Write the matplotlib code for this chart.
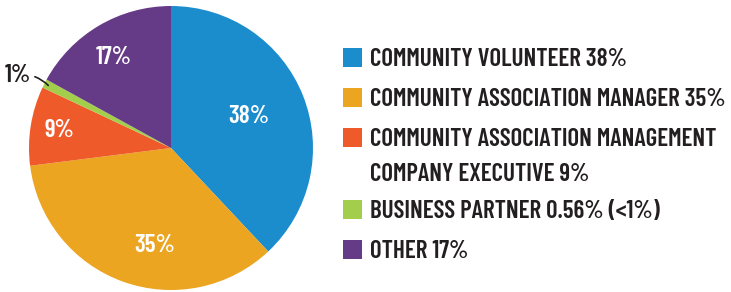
import matplotlib
matplotlib.use("Agg")
import matplotlib.pyplot as plt
import numpy as np
from matplotlib.patches import Rectangle

# pie data
values = [38, 35, 9, 1, 17]
pie_labels = ["38%", "35%", "9%", "", "17%"]
colors = ["#1B8DCD", "#EBA521", "#EF5A2A", "#A3CE4B", "#653A87"]
# legend text
legend_labels = [
    "COMMUNITY VOLUNTEER 38%",
    "COMMUNITY ASSOCIATION MANAGER 35%",
    "COMMUNITY ASSOCIATION MANAGEMENT\nCOMPANY EXECUTIVE 9%",
    "BUSINESS PARTNER 0.56% (<1%)",
    "OTHER 17%",
]
small_label = "1%"

plt.rcParams["font.family"] = ["Barlow Condensed", "DejaVu Sans"]
plt.rcParams["font.weight"] = 600

W, H = 731, 292
fig = plt.figure(figsize=(W / 100, H / 100), dpi=100)

# pie axes: centre (171,148), radius 142 px
cx, cy, r = 171, 148, 142
ax = fig.add_axes([(cx - r) / W, (H - cy - r) / H, 2 * r / W, 2 * r / H])
wedges, _ = ax.pie(values, colors=colors, startangle=90, counterclock=False,
                   radius=1, wedgeprops=dict(linewidth=0))
ax.set_xlim(-1, 1)
ax.set_ylim(-1, 1)
ax.set_aspect("equal")
ax.axis("off")

# inner labels: distance from centre and small angular nudge per wedge
label_dist = [0.6, 0.68, 0.8, 0, 0.77]
label_nudge = [2, 10, -1, 0, 1]
for w, lab, d, nd in zip(wedges, pie_labels, label_dist, label_nudge):
    if not lab:
        continue
    ang = np.deg2rad((w.theta1 + w.theta2) / 2 + nd)
    ax.text(d * np.cos(ang), d * np.sin(ang), lab, color="white", fontsize=18,
            ha="center", va="center_baseline")

# small slice label with leader line
g = wedges[3]
ang = np.deg2rad((g.theta1 + g.theta2) / 2)
ax.annotate(small_label, xy=(0.97 * np.cos(ang), 0.97 * np.sin(ang)),
            xytext=(-1.08, 0.53), fontsize=18, color="#231F20",
            ha="center", va="center_baseline", annotation_clip=False,
            arrowprops=dict(arrowstyle="-", color="#231F20", lw=1.2,
                            shrinkA=1, shrinkB=0,
                            connectionstyle="arc3,rad=-0.25"))

# legend in pixel coordinates
lax = fig.add_axes([0, 0, 1, 1])
lax.set_xlim(0, W)
lax.set_ylim(H, 0)
lax.axis("off")
row_y = [57, 97, 137, 209, 249]
line_gap = 35
for y, lab, c in zip(row_y, legend_labels, colors):
    lax.add_patch(Rectangle((343, y - 9.5), 19, 19, color=c, lw=0))
    for i, line in enumerate(lab.split("\n")):
        lax.text(370, y + 9 + i * line_gap, line, fontsize=18, color="#231F20",
                 ha="left", va="baseline")

fig.savefig("out.png", dpi=100)
